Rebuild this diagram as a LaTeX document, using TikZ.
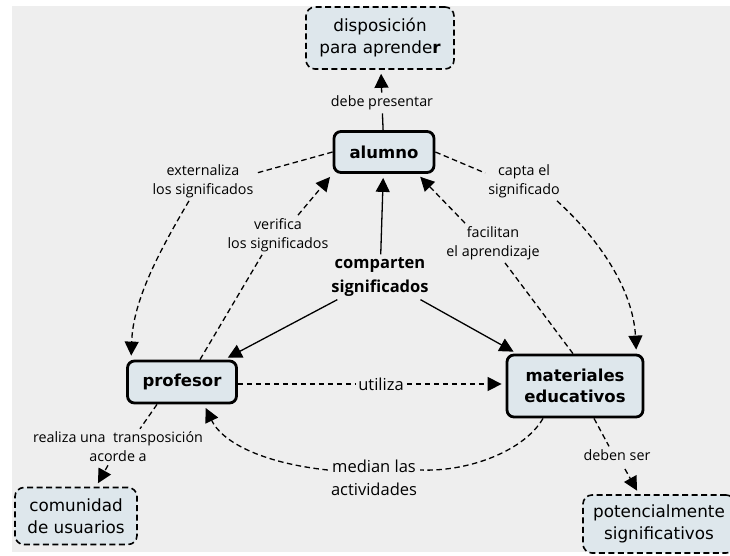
\documentclass[tikz,border=0pt]{standalone}
\usepackage{fontspec}
\setmainfont{DejaVu Sans}
\newfontfamily\lblfont{Open Sans}
\usetikzlibrary{arrows.meta,calc}
\definecolor{bg}{HTML}{EEEEEE}
\definecolor{boxfill}{HTML}{DEE7EC}

\begin{document}
\begin{tikzpicture}[x=1pt,y=-1pt,
  concept/.style={draw=black, line width=2.8pt, rounded corners=7pt, fill=boxfill,
    font=\fontsize{16.5}{20.5}\selectfont\bfseries, align=center, inner sep=0pt},
  leaf/.style={draw=black, line width=1.6pt, dash pattern=on 6pt off 3.5pt,
    rounded corners=9pt, fill=boxfill, font=\fontsize{16.8}{22}\selectfont,
    align=center, inner sep=0pt},
  lbl/.style={font=\lblfont\fontsize{14.3}{19}\selectfont, align=center, inner sep=3pt},
  biglbl/.style={lbl, font=\lblfont\fontsize{16.5}{23}\selectfont},
  link/.style={line width=1.3pt},
  dlink/.style={line width=1.3pt, dash pattern=on 5.5pt off 3.5pt},
  tip/.style={-{Triangle[length=14pt,width=14pt]}, shorten >=4pt},
]
\useasboundingbox (0,0) rectangle (730,555);
\fill[bg] (12,6) rectangle (730,552);

% concepts
\node[concept, minimum width=100pt, minimum height=41pt] (alumno) at (384,152) {alumno};
\node[concept, minimum width=109pt, minimum height=42pt] (prof) at (182,382) {profesor};
\node[concept, minimum width=136pt, minimum height=62pt] (mat) at (575,386) {materiales\\educativos};
\node[leaf, minimum width=148pt, minimum height=62pt] (disp) at (380,38) {disposición\\para aprende\textbf{r}};
\node[leaf, minimum width=122pt, minimum height=57pt] (com) at (76,516) {comunidad\\de usuarios};
\node[leaf, minimum width=152pt, minimum height=58pt] (pot) at (659,524) {potencialmente\\significativos};

% linking phrases
\node[lbl] (debe) at (382,103) {debe presentar};
\node[lbl] (ext) at (203,181) {externaliza\\los significados};
\node[lbl] (ver) at (278,235) {verifica\\los significados};
\node[lbl] (capta) at (524,181) {capta el\\significado};
\node[lbl] (fac) at (493,243) {facilitan\\el aprendizaje};
\node[lbl, font=\lblfont\bfseries\fontsize{16.5}{24}\selectfont] (comp) at (380,277) {comparten\\significados};
\node[biglbl] (util) at (381,384) {utiliza};
\node[biglbl] (med) at (374,478) {median las\\actividades};
\node[lbl] (real) at (118,447) {realiza una\ \ transposición\\acorde a};
\node[lbl] (deben) at (617,455) {deben ser};

% alumno -> disposicion
\draw[link] (alumno) -- (debe);
\draw[link,tip] (debe) -- (disp);

% alumno -> profesor
\draw[dlink] (alumno.west) -- ([yshift=8pt]ext.east);
\draw[dlink,tip] ([xshift=-14pt]ext.south) .. controls (160,250) and (133,300) .. ([xshift=5pt]prof.north west);

% profesor -> alumno
\draw[dlink] ([xshift=18pt]prof.north) -- ([xshift=-16pt]ver.south);
\draw[dlink,tip] ([xshift=20pt]ver.north) -- (alumno.south west);

% alumno -> materiales
\draw[dlink] (alumno.east) -- ([yshift=8pt]capta.west);
\draw[dlink,tip] ([xshift=33pt]capta.south) .. controls (600,240) and (633,290) .. ([xshift=-8pt]mat.north east);

% materiales -> alumno
\draw[dlink] ([xshift=-2pt]mat.north) -- ([xshift=12pt]fac.south);
\draw[dlink,tip] ([xshift=-28pt]fac.north) -- ([xshift=-18pt]alumno.south east);

% comparten significados
\draw[link,tip] (comp) -- (alumno);
\draw[link,tip] (comp) -- (prof);
\draw[link,tip] (comp) -- (mat);

% profesor -> materiales
\draw[dlink] (prof.east |- util.west) -- (util.west);
\draw[dlink,tip] (util.east) -- (mat.west |- util.east);

% materiales -> profesor
\draw[dlink] ([xshift=-32pt]mat.south) .. controls (525,450) and (470,472) .. ([yshift=8pt]med.east);
\draw[dlink,tip] ([yshift=8pt]med.west) .. controls (262,463) and (222,442) .. ([xshift=22pt]prof.south);

% profesor -> comunidad
\draw[dlink] ([xshift=-25pt]prof.south) -- ([xshift=22pt]real.north);
\draw[dlink,tip] ([xshift=-10pt]real.south) -- ([xshift=20pt]com.north);

% materiales -> potencialmente
\draw[dlink] ([xshift=19pt]mat.south) -- ([xshift=-8pt]deben.north);
\draw[dlink,tip, shorten <=6pt] ([xshift=5pt]deben.south) -- ([xshift=-20pt]pot.north);
\end{tikzpicture}
\end{document}
